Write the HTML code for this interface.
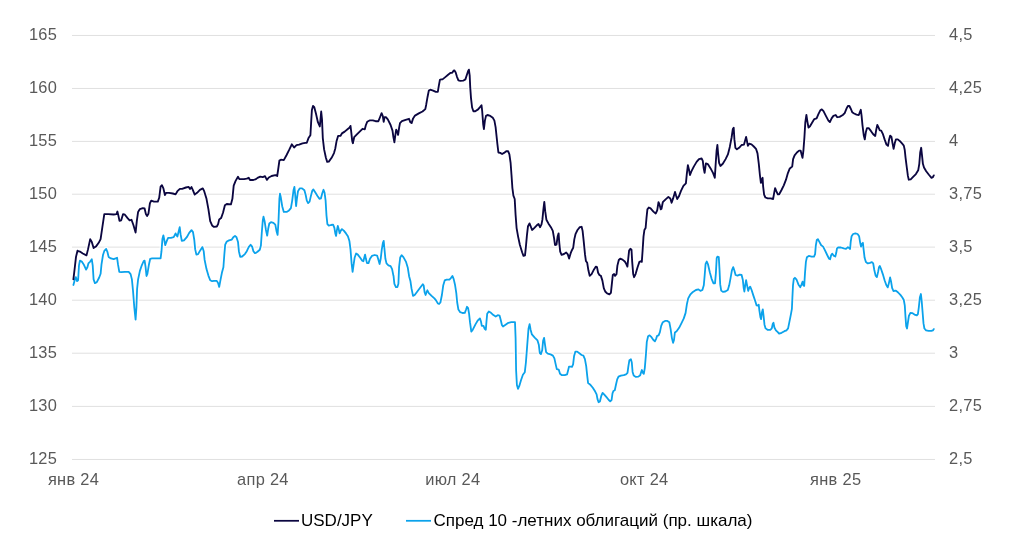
<!DOCTYPE html>
<html><head><meta charset="utf-8"><title>USD/JPY</title>
<style>
html,body{margin:0;padding:0;background:#fff;}
body{width:1024px;height:541px;overflow:hidden;font-family:"Liberation Sans",sans-serif;}
svg{display:block;}
text{font-family:"Liberation Sans",sans-serif;font-size:16.4px;fill:#595959;}
.lg{fill:#000;font-size:17px;}
</style></head><body>
<svg width="1024" height="541" viewBox="0 0 1024 541">
<rect width="1024" height="541" fill="#fff"/>
<g stroke="#e0e0e0" stroke-width="1" fill="none">
<line x1="72" y1="35.45" x2="935" y2="35.45"/>
<line x1="72" y1="88.45" x2="935" y2="88.45"/>
<line x1="72" y1="141.40" x2="935" y2="141.40"/>
<line x1="72" y1="194.20" x2="935" y2="194.20"/>
<line x1="72" y1="247.10" x2="935" y2="247.10"/>
<line x1="72" y1="300.20" x2="935" y2="300.20"/>
<line x1="72" y1="353.20" x2="935" y2="353.20"/>
<line x1="72" y1="406.40" x2="935" y2="406.40"/>
<line x1="72" y1="459.45" x2="935" y2="459.45"/>
</g>
<g text-anchor="end" letter-spacing="0.3">
<text x="57.2" y="40.1">165</text>
<text x="57.2" y="93.0">160</text>
<text x="57.2" y="146.0">155</text>
<text x="57.2" y="198.8">150</text>
<text x="57.2" y="251.7">145</text>
<text x="57.2" y="304.8">140</text>
<text x="57.2" y="357.8">135</text>
<text x="57.2" y="411.0">130</text>
<text x="57.2" y="464.1">125</text>
</g>
<g letter-spacing="0.3">
<text x="949" y="40.1">4,5</text>
<text x="949" y="93.0">4,25</text>
<text x="949" y="146.0">4</text>
<text x="949" y="198.8">3,75</text>
<text x="949" y="251.7">3,5</text>
<text x="949" y="304.8">3,25</text>
<text x="949" y="357.8">3</text>
<text x="949" y="411.0">2,75</text>
<text x="949" y="464.1">2,5</text>
</g>
<g text-anchor="middle" letter-spacing="0.3">
<text x="73.5" y="485">янв 24</text>
<text x="262.9" y="485">апр 24</text>
<text x="452.8" y="485">июл 24</text>
<text x="644.2" y="485">окт 24</text>
<text x="835.7" y="485">янв 25</text>
</g>
<polyline fill="none" stroke="#fff" stroke-opacity="0.75" stroke-width="4.6" stroke-linejoin="round" stroke-linecap="round" points="73.4,285.0 74.9,279.4 75.8,277.1 77.1,281.2 78.1,280.3 79.0,265.3 79.9,260.6 81.8,261.6 83.7,264.4 86.1,269.6 87.4,267.2 88.4,263.4 90.2,261.6 91.8,259.3 92.7,265.3 93.6,279.4 94.9,283.1 96.8,282.2 99.2,277.5 100.6,273.8 101.5,264.4 103.0,255.0 104.3,250.9 106.2,249.0 107.5,252.2 108.6,256.9 110.9,258.4 113.7,259.1 115.6,258.4 117.1,257.8 118.0,264.4 119.3,271.9 121.2,272.2 124.9,271.9 128.7,271.9 130.6,274.1 131.9,279.4 133.0,290.6 134.3,307.5 135.6,319.7 136.4,307.5 137.1,288.8 138.1,279.4 139.9,270.9 141.8,265.3 143.7,261.0 144.6,260.6 145.6,267.2 146.5,276.0 147.4,273.8 148.8,265.3 150.2,258.8 152.1,258.4 155.9,258.4 160.6,258.4 161.5,251.2 162.4,239.1 163.4,235.3 164.3,240.0 165.2,245.2 166.8,240.9 168.1,237.8 170.9,237.8 173.7,237.2 175.6,233.4 176.5,235.3 177.4,236.6 178.4,232.5 179.7,227.2 180.6,234.4 181.8,240.9 184.0,240.4 186.8,237.2 189.2,232.9 191.5,230.1 193.0,232.1 194.3,240.0 195.2,249.4 196.4,254.6 198.1,254.1 199.9,250.9 202.4,247.1 203.7,251.2 204.6,259.7 206.5,269.1 208.4,275.6 210.2,280.3 212.1,281.2 214.0,280.9 216.8,280.9 218.1,283.1 219.2,286.9 220.6,279.4 221.9,272.8 223.4,267.2 224.3,255.0 225.2,244.7 226.8,241.5 229.0,240.4 231.8,239.6 233.3,237.2 235.0,235.9 236.5,237.2 238.0,241.9 238.9,251.2 240.2,256.9 242.1,256.5 244.9,254.1 246.8,251.2 248.7,247.1 250.6,244.7 252.1,246.6 253.4,251.2 254.9,253.1 256.0,252.8 257.5,251.8 259.8,249.8 260.9,245.6 261.8,232.5 262.8,220.3 263.5,216.6 264.6,221.2 265.9,229.7 267.2,235.7 268.2,228.8 269.3,223.5 271.0,222.2 273.4,222.8 275.3,224.6 276.6,231.6 277.6,234.9 278.5,221.2 279.4,198.8 280.0,193.7 280.9,197.8 282.2,206.2 283.8,211.9 286.6,211.9 289.0,210.4 290.9,208.1 292.2,200.6 293.5,190.3 294.4,186.9 295.2,195.0 296.1,206.2 296.9,198.8 298.0,191.2 299.7,188.4 302.1,188.4 304.4,190.3 305.7,195.0 306.8,200.6 308.1,203.1 309.6,201.6 310.9,195.9 312.2,190.9 313.4,189.4 315.2,192.2 317.5,195.9 319.4,198.8 320.9,198.4 322.2,193.5 323.5,189.8 324.6,192.8 325.6,200.6 326.5,215.6 327.4,224.1 328.8,225.6 331.0,225.0 333.1,224.6 334.4,227.8 335.3,233.4 336.1,235.9 336.8,230.6 337.8,225.9 338.7,229.1 339.6,233.4 340.8,230.6 341.9,229.1 343.8,230.6 346.0,233.4 347.9,236.2 349.4,240.9 350.5,249.4 351.6,263.4 352.6,271.9 353.5,265.3 354.6,257.8 356.1,253.5 357.8,254.6 360.2,257.8 362.1,260.6 363.4,261.2 364.4,256.9 365.1,254.6 365.9,258.8 367.0,263.1 368.5,263.1 370.0,258.8 371.9,255.9 374.7,255.0 377.1,255.6 378.4,259.7 379.6,264.0 380.7,258.8 381.8,249.4 382.9,242.8 383.7,240.9 384.4,248.4 385.4,258.8 386.5,263.4 388.4,265.3 390.6,266.2 392.1,269.1 393.4,275.6 393.5,275.7 394.4,283.8 395.9,287.1 397.4,287.1 398.4,283.8 399.1,266.9 400.2,257.5 401.6,255.2 403.4,257.1 405.9,261.6 407.8,267.8 409.1,276.2 410.4,280.9 411.5,288.4 413.0,295.9 414.7,295.0 417.5,291.2 420.3,287.5 422.8,284.3 423.7,285.6 424.6,292.2 425.6,295.0 426.5,292.2 427.4,290.3 428.8,293.1 431.6,295.9 434.4,298.4 436.2,300.6 437.8,303.4 439.1,304.0 440.4,302.5 441.9,295.0 443.2,285.6 444.7,280.4 446.6,279.6 449.4,279.6 450.9,278.1 452.4,275.9 453.7,279.1 455.0,284.7 456.3,293.1 457.2,302.5 458.4,309.6 460.2,312.2 462.5,313.0 464.8,312.8 465.9,310.0 467.0,306.8 468.1,308.1 469.1,313.8 470.0,322.2 471.3,331.6 472.8,329.7 475.6,324.1 477.9,320.3 479.9,318.4 480.9,321.2 481.8,325.9 483.5,325.9 484.6,328.8 485.8,329.7 486.5,321.2 487.2,313.8 488.8,311.5 491.0,312.8 493.4,315.1 495.7,316.6 497.8,315.2 499.6,315.6 500.8,320.3 501.9,325.0 503.0,326.5 505.2,325.0 508.4,322.8 511.2,322.2 511.2,322.2 515.0,322.2 515.6,338.1 516.1,370.0 516.9,385.0 518.0,388.8 519.3,385.9 521.0,380.3 522.9,374.7 524.8,372.2 525.9,362.5 527.2,345.6 528.5,328.8 529.6,324.1 530.6,329.7 531.9,334.4 534.7,337.6 537.5,340.4 538.8,344.7 539.8,353.1 540.9,354.1 542.2,350.3 543.1,340.9 544.1,337.8 545.0,344.7 546.1,352.2 547.8,353.7 550.6,354.4 552.9,355.6 554.4,358.4 555.7,364.4 556.8,369.1 558.7,369.6 560.0,373.8 561.9,375.2 564.7,375.2 567.1,374.3 568.2,370.0 569.0,366.6 570.5,366.6 572.0,366.8 573.1,364.4 574.1,355.9 575.4,351.6 577.2,351.6 579.7,353.5 581.6,355.0 583.4,355.6 584.9,359.1 586.2,366.2 587.2,375.6 588.1,383.1 590.0,384.4 592.8,387.8 595.2,391.6 596.6,394.4 597.5,399.1 598.6,402.2 599.9,401.5 601.2,396.2 602.6,392.9 604.1,394.4 606.5,397.2 608.8,400.0 610.2,401.3 611.6,400.0 612.5,393.4 613.4,391.0 614.8,390.2 615.9,385.0 617.2,379.4 618.5,376.6 620.9,375.6 623.8,375.1 626.0,374.3 627.5,372.8 628.4,366.2 629.4,360.2 630.9,359.3 631.8,362.5 632.6,371.9 633.7,375.6 635.9,376.9 638.4,376.6 640.2,375.2 641.2,371.9 641.9,370.0 642.9,372.8 643.8,373.8 644.8,368.1 645.9,355.0 646.8,341.9 648.1,336.2 649.6,335.3 651.5,337.2 653.4,340.0 654.9,341.3 656.0,339.1 657.1,335.9 658.6,335.3 659.9,332.1 661.2,325.9 662.8,322.2 665.0,320.9 667.4,320.9 669.3,322.2 670.6,328.8 671.9,338.1 673.1,342.8 674.0,340.0 674.9,332.5 676.6,331.2 679.1,327.8 681.5,323.1 683.8,318.4 685.6,312.9 686.9,304.1 688.2,298.4 690.2,294.7 692.9,291.9 695.9,290.0 698.5,289.4 700.4,290.9 702.4,290.0 703.8,285.3 704.7,275.0 705.6,263.8 706.8,261.5 708.1,264.7 709.8,272.2 711.6,278.8 713.5,283.4 715.0,283.4 715.9,273.1 716.7,258.1 717.4,256.6 718.8,257.2 719.5,269.4 720.2,284.4 721.2,290.6 722.9,291.9 725.3,291.5 727.8,290.0 729.2,285.3 730.6,277.8 731.9,270.3 733.2,267.1 734.3,270.3 735.6,275.0 737.5,275.6 739.8,274.6 741.6,275.0 742.8,279.7 743.7,288.1 744.4,291.5 745.2,285.3 746.1,280.2 747.1,285.3 748.2,290.9 749.3,287.8 750.2,286.6 751.6,290.0 753.4,295.6 755.3,301.2 756.6,305.4 757.8,305.6 758.7,304.6 759.4,310.6 760.4,317.2 761.1,319.1 761.9,312.5 762.8,309.3 763.6,316.2 764.5,324.7 765.6,328.4 767.5,329.8 770.3,329.8 771.8,328.4 772.8,323.8 773.5,322.8 774.4,327.5 775.9,330.3 777.8,332.2 779.1,333.7 781.6,332.8 784.4,331.2 786.6,330.3 788.1,328.4 789.4,321.9 790.9,314.4 791.9,308.8 792.4,297.5 793.0,285.3 793.8,278.8 794.9,277.8 796.6,279.7 798.4,284.4 800.3,287.2 801.6,284.4 802.6,281.6 803.3,285.3 804.2,285.9 805.0,273.1 805.9,261.9 806.9,257.2 808.8,255.9 811.6,256.6 814.0,256.6 815.1,254.1 815.8,245.6 816.8,240.0 817.9,239.1 819.4,241.9 821.2,245.2 823.1,246.6 825.0,250.3 827.2,255.0 829.1,258.8 830.1,259.3 831.2,255.0 832.3,253.7 833.6,255.6 835.3,256.5 836.2,253.1 837.0,248.4 838.1,247.5 840.9,247.5 843.8,248.4 846.0,248.8 847.9,247.1 849.4,248.4 850.1,249.0 850.7,241.9 851.6,236.2 853.1,234.0 855.4,233.4 857.6,234.0 859.1,236.2 860.2,242.8 861.0,246.6 861.9,243.8 862.9,242.8 863.6,249.4 864.6,257.8 865.9,262.1 867.8,263.4 870.0,262.9 871.9,262.1 873.2,263.4 874.3,270.0 875.6,275.6 876.9,277.1 878.1,271.9 879.0,267.2 879.8,265.9 880.9,268.5 882.8,274.1 884.6,280.3 886.3,285.0 887.8,287.4 888.9,283.1 890.1,277.5 891.0,281.2 892.1,287.8 893.4,291.0 895.9,290.6 898.1,292.5 900.4,294.9 902.2,297.2 903.8,300.0 904.8,305.6 905.5,316.9 906.2,326.2 907.0,328.5 907.9,322.5 908.9,315.9 910.4,312.8 912.2,313.1 914.5,314.6 916.8,315.4 917.9,314.1 918.8,307.5 919.9,297.2 920.9,294.0 921.6,300.0 922.6,312.2 923.5,323.4 924.4,328.5 926.1,330.4 928.6,330.9 931.4,330.9 932.9,330.4 933.8,329.1"/>
<polyline fill="none" stroke="#fff" stroke-opacity="0.75" stroke-width="4.6" stroke-linejoin="round" stroke-linecap="round" points="73.4,279.4 74.5,270.0 76.0,256.9 77.5,250.7 77.5,250.9 79.9,251.6 82.8,253.5 86.5,255.4 88.0,249.4 90.2,239.1 91.8,241.9 93.6,248.1 95.9,246.6 98.7,242.8 100.6,239.1 102.4,226.9 104.3,214.1 108.1,214.1 113.7,214.5 116.5,214.1 117.4,211.5 118.4,215.6 119.5,220.9 121.2,220.3 123.1,214.1 124.9,214.7 127.8,218.4 129.6,220.3 131.5,219.8 133.4,225.0 135.6,232.5 136.8,221.2 138.1,211.9 139.9,209.1 142.8,208.1 144.6,208.5 145.9,214.1 147.1,216.0 148.4,213.8 149.9,203.4 151.2,200.6 154.0,201.6 157.8,201.6 159.2,197.8 160.6,186.6 161.9,185.2 163.4,188.4 164.9,195.0 166.2,192.8 169.0,192.8 172.8,193.5 175.6,194.4 177.4,191.2 179.9,188.8 182.1,188.8 185.9,187.5 188.7,186.9 190.0,189.0 191.5,187.1 193.0,190.3 194.7,194.6 197.1,192.8 199.9,189.9 202.8,188.4 204.2,191.2 206.5,198.8 208.4,209.1 210.2,221.2 212.1,225.4 214.0,226.9 216.8,226.5 218.1,224.1 219.2,219.4 221.1,218.1 223.0,212.8 224.9,205.3 226.8,204.0 230.9,204.4 232.4,198.8 233.7,185.6 235.6,180.9 238.0,176.8 239.3,179.1 244.0,179.1 246.8,178.7 248.7,177.8 250.0,180.0 253.4,180.0 256.0,179.1 257.5,177.9 260.3,176.6 262.8,177.1 265.0,176.2 266.9,179.9 268.8,177.5 271.6,176.0 275.3,175.1 277.2,176.0 278.1,170.0 279.4,160.6 280.9,159.7 283.8,160.1 286.6,155.0 289.4,149.4 291.8,144.3 294.1,147.5 296.5,145.2 299.1,144.7 302.5,143.4 305.3,142.8 306.8,142.8 308.5,138.1 310.4,135.3 311.1,123.1 311.9,110.0 313.0,105.9 314.3,107.2 316.0,113.8 317.9,122.2 319.8,126.5 320.5,119.4 321.2,111.5 322.0,119.4 322.8,138.1 324.1,149.4 325.9,157.8 327.2,161.9 328.8,161.6 331.6,157.8 334.0,153.1 335.3,148.4 336.6,140.9 338.1,135.9 340.4,135.9 341.9,133.4 344.7,131.6 347.5,129.3 349.4,127.8 350.5,125.9 351.2,131.6 352.2,140.9 352.9,143.2 354.2,137.2 356.9,134.4 359.7,131.6 362.5,128.8 364.8,129.3 365.9,125.0 367.2,121.8 370.0,120.3 372.8,120.3 375.6,121.2 378.4,121.2 379.9,117.5 381.6,113.2 382.8,116.0 383.7,121.8 384.6,117.1 385.9,117.1 387.8,119.4 390.6,125.0 392.5,130.6 393.4,137.2 394.4,142.4 395.3,135.3 396.2,129.7 397.2,131.6 398.1,134.9 399.1,127.8 400.0,123.1 401.9,121.2 405.6,119.8 409.0,118.8 410.3,122.2 411.6,123.1 413.1,118.4 415.0,115.6 418.8,113.4 422.5,111.5 425.3,109.1 426.2,104.7 427.5,97.2 428.8,90.6 430.3,89.7 433.1,90.6 435.9,91.9 437.8,91.9 438.8,85.9 439.9,79.9 441.2,79.4 442.5,79.4 445.3,77.1 448.1,74.7 450.6,72.8 452.2,72.8 453.4,70.9 454.3,70.4 455.6,72.2 456.9,76.6 458.4,80.3 460.3,80.9 463.1,80.7 465.4,79.4 466.9,74.7 468.2,70.9 468.9,69.6 469.7,75.6 470.2,86.9 471.0,98.1 472.1,107.5 473.4,111.2 475.3,111.2 478.1,109.4 480.0,107.1 481.5,105.2 482.2,111.2 483.2,124.4 483.9,129.1 484.9,120.6 486.0,115.9 487.5,115.0 490.3,115.9 492.8,117.8 494.4,120.6 495.6,127.2 496.5,135.6 497.4,144.1 498.4,152.5 500.2,152.9 502.1,154.0 504.0,152.9 506.2,151.2 508.1,151.2 509.4,154.4 510.6,162.8 511.5,175.0 512.4,188.1 513.4,195.6 514.7,199.0 515.6,215.0 516.6,228.1 518.1,236.6 519.9,245.0 522.2,252.5 523.5,255.9 525.0,255.3 525.9,246.9 526.9,235.6 528.0,226.2 529.5,223.4 530.6,226.2 532.1,230.0 534.4,227.8 536.8,225.3 538.5,224.0 540.0,227.2 541.5,224.4 542.4,219.7 543.4,209.4 544.3,201.9 545.2,211.2 546.4,219.7 548.4,223.4 550.9,227.2 552.8,230.9 554.1,238.4 555.0,245.0 556.5,244.6 557.6,236.6 558.6,233.4 559.3,243.1 560.2,251.6 561.6,254.8 564.0,254.0 566.2,252.5 567.8,254.4 569.1,258.5 570.6,253.4 571.9,250.2 573.2,247.8 574.3,239.4 575.6,233.8 577.5,230.0 579.8,227.2 581.6,226.8 582.6,230.9 583.7,241.2 585.0,254.4 585.9,260.9 587.2,262.8 588.4,270.3 589.7,275.9 591.6,274.1 594.0,269.4 595.9,266.6 597.0,267.1 598.1,272.8 599.4,275.0 600.9,275.9 602.4,280.6 603.8,288.1 605.2,291.5 607.1,293.4 609.4,294.3 610.9,292.8 611.8,284.4 612.8,275.0 614.1,274.1 615.0,275.9 616.5,274.1 617.4,265.6 618.8,260.0 620.2,258.7 622.5,259.6 624.8,261.5 626.2,263.8 627.4,266.6 628.1,260.0 629.1,250.6 630.4,248.8 631.5,249.7 632.2,261.9 633.2,274.1 634.1,277.2 635.6,274.1 637.5,267.5 639.4,261.9 640.7,261.3 641.8,261.9 642.6,250.6 643.5,236.6 644.4,230.0 645.6,228.1 646.5,217.8 647.4,209.4 648.8,207.5 650.6,208.4 653.4,211.6 655.7,213.5 657.2,210.3 658.5,202.2 659.6,204.7 660.8,209.4 661.5,208.8 662.8,202.2 665.6,199.4 668.4,196.9 670.3,198.4 671.6,202.8 673.1,198.4 675.0,191.9 676.1,195.6 677.2,199.0 678.8,196.6 681.0,190.9 683.4,185.9 685.9,183.4 686.8,174.1 687.9,165.2 689.1,170.3 690.0,175.0 691.5,171.2 693.8,166.6 696.6,161.9 699.0,159.1 701.6,158.5 702.8,160.9 703.7,168.4 704.6,172.8 705.9,163.4 707.8,164.1 710.6,168.4 713.1,173.1 714.8,177.8 715.7,163.8 716.6,150.6 717.4,145.0 718.1,153.4 719.1,162.8 720.4,166.0 722.8,163.8 725.6,159.1 727.9,154.4 729.8,146.9 731.6,137.5 732.8,129.1 733.7,127.8 734.4,139.4 735.4,147.8 736.9,149.3 739.1,147.8 741.6,145.0 744.0,144.6 744.9,141.2 746.1,136.9 747.0,141.2 747.9,145.9 749.2,143.7 751.5,144.4 753.8,146.5 756.0,148.8 757.5,153.4 758.8,163.8 759.9,175.0 760.9,182.9 761.8,179.7 762.6,177.8 763.1,186.2 764.1,194.7 765.4,197.5 767.8,198.4 770.6,198.4 773.1,199.0 774.0,193.8 775.1,188.1 776.2,190.9 777.8,194.3 779.2,194.3 781.5,190.0 783.8,185.3 786.0,179.7 787.9,173.1 789.8,168.4 792.2,166.6 793.1,159.1 794.6,155.3 796.9,152.5 799.1,150.6 800.6,150.6 801.6,154.4 802.5,157.8 803.4,150.6 804.4,137.5 805.3,122.5 806.4,115.0 807.4,121.6 808.5,127.6 810.0,126.2 812.2,122.5 814.3,119.1 816.6,118.4 818.4,114.1 820.3,110.3 821.8,109.4 823.5,111.2 825.9,115.9 828.4,120.6 829.9,122.1 831.6,118.4 833.4,115.9 835.7,115.0 837.2,117.2 839.6,116.9 842.8,115.0 844.7,113.1 846.6,108.4 847.9,106.0 849.4,106.0 850.9,109.0 852.2,112.2 854.1,113.5 856.5,114.6 858.8,115.0 859.9,112.2 860.8,109.8 861.6,115.9 862.5,125.3 863.8,135.6 864.8,139.4 865.9,131.9 867.0,128.1 868.7,128.1 870.9,130.9 873.2,134.3 875.2,136.0 876.2,130.0 877.3,124.9 878.4,127.2 879.8,130.4 881.2,130.6 882.8,133.8 884.6,139.4 886.5,144.6 888.0,145.9 889.1,139.4 890.2,135.6 891.4,136.6 892.5,143.1 893.6,148.8 894.8,143.1 895.9,139.4 897.8,139.4 900.0,141.2 902.2,143.7 903.8,145.6 904.7,149.7 905.6,158.1 906.8,167.5 907.9,175.9 908.8,179.7 910.7,179.3 913.1,176.9 915.9,174.1 918.2,170.3 919.3,163.8 920.2,152.5 921.2,147.8 921.9,154.4 922.9,163.8 924.0,167.5 926.2,171.2 929.1,175.0 931.5,177.8 932.8,177.2 933.8,175.4"/>
<polyline fill="none" stroke="#0ba2eb" stroke-width="1.8" stroke-linejoin="round" stroke-linecap="round" points="73.4,285.0 74.9,279.4 75.8,277.1 77.1,281.2 78.1,280.3 79.0,265.3 79.9,260.6 81.8,261.6 83.7,264.4 86.1,269.6 87.4,267.2 88.4,263.4 90.2,261.6 91.8,259.3 92.7,265.3 93.6,279.4 94.9,283.1 96.8,282.2 99.2,277.5 100.6,273.8 101.5,264.4 103.0,255.0 104.3,250.9 106.2,249.0 107.5,252.2 108.6,256.9 110.9,258.4 113.7,259.1 115.6,258.4 117.1,257.8 118.0,264.4 119.3,271.9 121.2,272.2 124.9,271.9 128.7,271.9 130.6,274.1 131.9,279.4 133.0,290.6 134.3,307.5 135.6,319.7 136.4,307.5 137.1,288.8 138.1,279.4 139.9,270.9 141.8,265.3 143.7,261.0 144.6,260.6 145.6,267.2 146.5,276.0 147.4,273.8 148.8,265.3 150.2,258.8 152.1,258.4 155.9,258.4 160.6,258.4 161.5,251.2 162.4,239.1 163.4,235.3 164.3,240.0 165.2,245.2 166.8,240.9 168.1,237.8 170.9,237.8 173.7,237.2 175.6,233.4 176.5,235.3 177.4,236.6 178.4,232.5 179.7,227.2 180.6,234.4 181.8,240.9 184.0,240.4 186.8,237.2 189.2,232.9 191.5,230.1 193.0,232.1 194.3,240.0 195.2,249.4 196.4,254.6 198.1,254.1 199.9,250.9 202.4,247.1 203.7,251.2 204.6,259.7 206.5,269.1 208.4,275.6 210.2,280.3 212.1,281.2 214.0,280.9 216.8,280.9 218.1,283.1 219.2,286.9 220.6,279.4 221.9,272.8 223.4,267.2 224.3,255.0 225.2,244.7 226.8,241.5 229.0,240.4 231.8,239.6 233.3,237.2 235.0,235.9 236.5,237.2 238.0,241.9 238.9,251.2 240.2,256.9 242.1,256.5 244.9,254.1 246.8,251.2 248.7,247.1 250.6,244.7 252.1,246.6 253.4,251.2 254.9,253.1 256.0,252.8 257.5,251.8 259.8,249.8 260.9,245.6 261.8,232.5 262.8,220.3 263.5,216.6 264.6,221.2 265.9,229.7 267.2,235.7 268.2,228.8 269.3,223.5 271.0,222.2 273.4,222.8 275.3,224.6 276.6,231.6 277.6,234.9 278.5,221.2 279.4,198.8 280.0,193.7 280.9,197.8 282.2,206.2 283.8,211.9 286.6,211.9 289.0,210.4 290.9,208.1 292.2,200.6 293.5,190.3 294.4,186.9 295.2,195.0 296.1,206.2 296.9,198.8 298.0,191.2 299.7,188.4 302.1,188.4 304.4,190.3 305.7,195.0 306.8,200.6 308.1,203.1 309.6,201.6 310.9,195.9 312.2,190.9 313.4,189.4 315.2,192.2 317.5,195.9 319.4,198.8 320.9,198.4 322.2,193.5 323.5,189.8 324.6,192.8 325.6,200.6 326.5,215.6 327.4,224.1 328.8,225.6 331.0,225.0 333.1,224.6 334.4,227.8 335.3,233.4 336.1,235.9 336.8,230.6 337.8,225.9 338.7,229.1 339.6,233.4 340.8,230.6 341.9,229.1 343.8,230.6 346.0,233.4 347.9,236.2 349.4,240.9 350.5,249.4 351.6,263.4 352.6,271.9 353.5,265.3 354.6,257.8 356.1,253.5 357.8,254.6 360.2,257.8 362.1,260.6 363.4,261.2 364.4,256.9 365.1,254.6 365.9,258.8 367.0,263.1 368.5,263.1 370.0,258.8 371.9,255.9 374.7,255.0 377.1,255.6 378.4,259.7 379.6,264.0 380.7,258.8 381.8,249.4 382.9,242.8 383.7,240.9 384.4,248.4 385.4,258.8 386.5,263.4 388.4,265.3 390.6,266.2 392.1,269.1 393.4,275.6 393.5,275.7 394.4,283.8 395.9,287.1 397.4,287.1 398.4,283.8 399.1,266.9 400.2,257.5 401.6,255.2 403.4,257.1 405.9,261.6 407.8,267.8 409.1,276.2 410.4,280.9 411.5,288.4 413.0,295.9 414.7,295.0 417.5,291.2 420.3,287.5 422.8,284.3 423.7,285.6 424.6,292.2 425.6,295.0 426.5,292.2 427.4,290.3 428.8,293.1 431.6,295.9 434.4,298.4 436.2,300.6 437.8,303.4 439.1,304.0 440.4,302.5 441.9,295.0 443.2,285.6 444.7,280.4 446.6,279.6 449.4,279.6 450.9,278.1 452.4,275.9 453.7,279.1 455.0,284.7 456.3,293.1 457.2,302.5 458.4,309.6 460.2,312.2 462.5,313.0 464.8,312.8 465.9,310.0 467.0,306.8 468.1,308.1 469.1,313.8 470.0,322.2 471.3,331.6 472.8,329.7 475.6,324.1 477.9,320.3 479.9,318.4 480.9,321.2 481.8,325.9 483.5,325.9 484.6,328.8 485.8,329.7 486.5,321.2 487.2,313.8 488.8,311.5 491.0,312.8 493.4,315.1 495.7,316.6 497.8,315.2 499.6,315.6 500.8,320.3 501.9,325.0 503.0,326.5 505.2,325.0 508.4,322.8 511.2,322.2 511.2,322.2 515.0,322.2 515.6,338.1 516.1,370.0 516.9,385.0 518.0,388.8 519.3,385.9 521.0,380.3 522.9,374.7 524.8,372.2 525.9,362.5 527.2,345.6 528.5,328.8 529.6,324.1 530.6,329.7 531.9,334.4 534.7,337.6 537.5,340.4 538.8,344.7 539.8,353.1 540.9,354.1 542.2,350.3 543.1,340.9 544.1,337.8 545.0,344.7 546.1,352.2 547.8,353.7 550.6,354.4 552.9,355.6 554.4,358.4 555.7,364.4 556.8,369.1 558.7,369.6 560.0,373.8 561.9,375.2 564.7,375.2 567.1,374.3 568.2,370.0 569.0,366.6 570.5,366.6 572.0,366.8 573.1,364.4 574.1,355.9 575.4,351.6 577.2,351.6 579.7,353.5 581.6,355.0 583.4,355.6 584.9,359.1 586.2,366.2 587.2,375.6 588.1,383.1 590.0,384.4 592.8,387.8 595.2,391.6 596.6,394.4 597.5,399.1 598.6,402.2 599.9,401.5 601.2,396.2 602.6,392.9 604.1,394.4 606.5,397.2 608.8,400.0 610.2,401.3 611.6,400.0 612.5,393.4 613.4,391.0 614.8,390.2 615.9,385.0 617.2,379.4 618.5,376.6 620.9,375.6 623.8,375.1 626.0,374.3 627.5,372.8 628.4,366.2 629.4,360.2 630.9,359.3 631.8,362.5 632.6,371.9 633.7,375.6 635.9,376.9 638.4,376.6 640.2,375.2 641.2,371.9 641.9,370.0 642.9,372.8 643.8,373.8 644.8,368.1 645.9,355.0 646.8,341.9 648.1,336.2 649.6,335.3 651.5,337.2 653.4,340.0 654.9,341.3 656.0,339.1 657.1,335.9 658.6,335.3 659.9,332.1 661.2,325.9 662.8,322.2 665.0,320.9 667.4,320.9 669.3,322.2 670.6,328.8 671.9,338.1 673.1,342.8 674.0,340.0 674.9,332.5 676.6,331.2 679.1,327.8 681.5,323.1 683.8,318.4 685.6,312.9 686.9,304.1 688.2,298.4 690.2,294.7 692.9,291.9 695.9,290.0 698.5,289.4 700.4,290.9 702.4,290.0 703.8,285.3 704.7,275.0 705.6,263.8 706.8,261.5 708.1,264.7 709.8,272.2 711.6,278.8 713.5,283.4 715.0,283.4 715.9,273.1 716.7,258.1 717.4,256.6 718.8,257.2 719.5,269.4 720.2,284.4 721.2,290.6 722.9,291.9 725.3,291.5 727.8,290.0 729.2,285.3 730.6,277.8 731.9,270.3 733.2,267.1 734.3,270.3 735.6,275.0 737.5,275.6 739.8,274.6 741.6,275.0 742.8,279.7 743.7,288.1 744.4,291.5 745.2,285.3 746.1,280.2 747.1,285.3 748.2,290.9 749.3,287.8 750.2,286.6 751.6,290.0 753.4,295.6 755.3,301.2 756.6,305.4 757.8,305.6 758.7,304.6 759.4,310.6 760.4,317.2 761.1,319.1 761.9,312.5 762.8,309.3 763.6,316.2 764.5,324.7 765.6,328.4 767.5,329.8 770.3,329.8 771.8,328.4 772.8,323.8 773.5,322.8 774.4,327.5 775.9,330.3 777.8,332.2 779.1,333.7 781.6,332.8 784.4,331.2 786.6,330.3 788.1,328.4 789.4,321.9 790.9,314.4 791.9,308.8 792.4,297.5 793.0,285.3 793.8,278.8 794.9,277.8 796.6,279.7 798.4,284.4 800.3,287.2 801.6,284.4 802.6,281.6 803.3,285.3 804.2,285.9 805.0,273.1 805.9,261.9 806.9,257.2 808.8,255.9 811.6,256.6 814.0,256.6 815.1,254.1 815.8,245.6 816.8,240.0 817.9,239.1 819.4,241.9 821.2,245.2 823.1,246.6 825.0,250.3 827.2,255.0 829.1,258.8 830.1,259.3 831.2,255.0 832.3,253.7 833.6,255.6 835.3,256.5 836.2,253.1 837.0,248.4 838.1,247.5 840.9,247.5 843.8,248.4 846.0,248.8 847.9,247.1 849.4,248.4 850.1,249.0 850.7,241.9 851.6,236.2 853.1,234.0 855.4,233.4 857.6,234.0 859.1,236.2 860.2,242.8 861.0,246.6 861.9,243.8 862.9,242.8 863.6,249.4 864.6,257.8 865.9,262.1 867.8,263.4 870.0,262.9 871.9,262.1 873.2,263.4 874.3,270.0 875.6,275.6 876.9,277.1 878.1,271.9 879.0,267.2 879.8,265.9 880.9,268.5 882.8,274.1 884.6,280.3 886.3,285.0 887.8,287.4 888.9,283.1 890.1,277.5 891.0,281.2 892.1,287.8 893.4,291.0 895.9,290.6 898.1,292.5 900.4,294.9 902.2,297.2 903.8,300.0 904.8,305.6 905.5,316.9 906.2,326.2 907.0,328.5 907.9,322.5 908.9,315.9 910.4,312.8 912.2,313.1 914.5,314.6 916.8,315.4 917.9,314.1 918.8,307.5 919.9,297.2 920.9,294.0 921.6,300.0 922.6,312.2 923.5,323.4 924.4,328.5 926.1,330.4 928.6,330.9 931.4,330.9 932.9,330.4 933.8,329.1"/>
<polyline fill="none" stroke="#0b0640" stroke-width="1.85" stroke-linejoin="round" stroke-linecap="round" points="73.4,279.4 74.5,270.0 76.0,256.9 77.5,250.7 77.5,250.9 79.9,251.6 82.8,253.5 86.5,255.4 88.0,249.4 90.2,239.1 91.8,241.9 93.6,248.1 95.9,246.6 98.7,242.8 100.6,239.1 102.4,226.9 104.3,214.1 108.1,214.1 113.7,214.5 116.5,214.1 117.4,211.5 118.4,215.6 119.5,220.9 121.2,220.3 123.1,214.1 124.9,214.7 127.8,218.4 129.6,220.3 131.5,219.8 133.4,225.0 135.6,232.5 136.8,221.2 138.1,211.9 139.9,209.1 142.8,208.1 144.6,208.5 145.9,214.1 147.1,216.0 148.4,213.8 149.9,203.4 151.2,200.6 154.0,201.6 157.8,201.6 159.2,197.8 160.6,186.6 161.9,185.2 163.4,188.4 164.9,195.0 166.2,192.8 169.0,192.8 172.8,193.5 175.6,194.4 177.4,191.2 179.9,188.8 182.1,188.8 185.9,187.5 188.7,186.9 190.0,189.0 191.5,187.1 193.0,190.3 194.7,194.6 197.1,192.8 199.9,189.9 202.8,188.4 204.2,191.2 206.5,198.8 208.4,209.1 210.2,221.2 212.1,225.4 214.0,226.9 216.8,226.5 218.1,224.1 219.2,219.4 221.1,218.1 223.0,212.8 224.9,205.3 226.8,204.0 230.9,204.4 232.4,198.8 233.7,185.6 235.6,180.9 238.0,176.8 239.3,179.1 244.0,179.1 246.8,178.7 248.7,177.8 250.0,180.0 253.4,180.0 256.0,179.1 257.5,177.9 260.3,176.6 262.8,177.1 265.0,176.2 266.9,179.9 268.8,177.5 271.6,176.0 275.3,175.1 277.2,176.0 278.1,170.0 279.4,160.6 280.9,159.7 283.8,160.1 286.6,155.0 289.4,149.4 291.8,144.3 294.1,147.5 296.5,145.2 299.1,144.7 302.5,143.4 305.3,142.8 306.8,142.8 308.5,138.1 310.4,135.3 311.1,123.1 311.9,110.0 313.0,105.9 314.3,107.2 316.0,113.8 317.9,122.2 319.8,126.5 320.5,119.4 321.2,111.5 322.0,119.4 322.8,138.1 324.1,149.4 325.9,157.8 327.2,161.9 328.8,161.6 331.6,157.8 334.0,153.1 335.3,148.4 336.6,140.9 338.1,135.9 340.4,135.9 341.9,133.4 344.7,131.6 347.5,129.3 349.4,127.8 350.5,125.9 351.2,131.6 352.2,140.9 352.9,143.2 354.2,137.2 356.9,134.4 359.7,131.6 362.5,128.8 364.8,129.3 365.9,125.0 367.2,121.8 370.0,120.3 372.8,120.3 375.6,121.2 378.4,121.2 379.9,117.5 381.6,113.2 382.8,116.0 383.7,121.8 384.6,117.1 385.9,117.1 387.8,119.4 390.6,125.0 392.5,130.6 393.4,137.2 394.4,142.4 395.3,135.3 396.2,129.7 397.2,131.6 398.1,134.9 399.1,127.8 400.0,123.1 401.9,121.2 405.6,119.8 409.0,118.8 410.3,122.2 411.6,123.1 413.1,118.4 415.0,115.6 418.8,113.4 422.5,111.5 425.3,109.1 426.2,104.7 427.5,97.2 428.8,90.6 430.3,89.7 433.1,90.6 435.9,91.9 437.8,91.9 438.8,85.9 439.9,79.9 441.2,79.4 442.5,79.4 445.3,77.1 448.1,74.7 450.6,72.8 452.2,72.8 453.4,70.9 454.3,70.4 455.6,72.2 456.9,76.6 458.4,80.3 460.3,80.9 463.1,80.7 465.4,79.4 466.9,74.7 468.2,70.9 468.9,69.6 469.7,75.6 470.2,86.9 471.0,98.1 472.1,107.5 473.4,111.2 475.3,111.2 478.1,109.4 480.0,107.1 481.5,105.2 482.2,111.2 483.2,124.4 483.9,129.1 484.9,120.6 486.0,115.9 487.5,115.0 490.3,115.9 492.8,117.8 494.4,120.6 495.6,127.2 496.5,135.6 497.4,144.1 498.4,152.5 500.2,152.9 502.1,154.0 504.0,152.9 506.2,151.2 508.1,151.2 509.4,154.4 510.6,162.8 511.5,175.0 512.4,188.1 513.4,195.6 514.7,199.0 515.6,215.0 516.6,228.1 518.1,236.6 519.9,245.0 522.2,252.5 523.5,255.9 525.0,255.3 525.9,246.9 526.9,235.6 528.0,226.2 529.5,223.4 530.6,226.2 532.1,230.0 534.4,227.8 536.8,225.3 538.5,224.0 540.0,227.2 541.5,224.4 542.4,219.7 543.4,209.4 544.3,201.9 545.2,211.2 546.4,219.7 548.4,223.4 550.9,227.2 552.8,230.9 554.1,238.4 555.0,245.0 556.5,244.6 557.6,236.6 558.6,233.4 559.3,243.1 560.2,251.6 561.6,254.8 564.0,254.0 566.2,252.5 567.8,254.4 569.1,258.5 570.6,253.4 571.9,250.2 573.2,247.8 574.3,239.4 575.6,233.8 577.5,230.0 579.8,227.2 581.6,226.8 582.6,230.9 583.7,241.2 585.0,254.4 585.9,260.9 587.2,262.8 588.4,270.3 589.7,275.9 591.6,274.1 594.0,269.4 595.9,266.6 597.0,267.1 598.1,272.8 599.4,275.0 600.9,275.9 602.4,280.6 603.8,288.1 605.2,291.5 607.1,293.4 609.4,294.3 610.9,292.8 611.8,284.4 612.8,275.0 614.1,274.1 615.0,275.9 616.5,274.1 617.4,265.6 618.8,260.0 620.2,258.7 622.5,259.6 624.8,261.5 626.2,263.8 627.4,266.6 628.1,260.0 629.1,250.6 630.4,248.8 631.5,249.7 632.2,261.9 633.2,274.1 634.1,277.2 635.6,274.1 637.5,267.5 639.4,261.9 640.7,261.3 641.8,261.9 642.6,250.6 643.5,236.6 644.4,230.0 645.6,228.1 646.5,217.8 647.4,209.4 648.8,207.5 650.6,208.4 653.4,211.6 655.7,213.5 657.2,210.3 658.5,202.2 659.6,204.7 660.8,209.4 661.5,208.8 662.8,202.2 665.6,199.4 668.4,196.9 670.3,198.4 671.6,202.8 673.1,198.4 675.0,191.9 676.1,195.6 677.2,199.0 678.8,196.6 681.0,190.9 683.4,185.9 685.9,183.4 686.8,174.1 687.9,165.2 689.1,170.3 690.0,175.0 691.5,171.2 693.8,166.6 696.6,161.9 699.0,159.1 701.6,158.5 702.8,160.9 703.7,168.4 704.6,172.8 705.9,163.4 707.8,164.1 710.6,168.4 713.1,173.1 714.8,177.8 715.7,163.8 716.6,150.6 717.4,145.0 718.1,153.4 719.1,162.8 720.4,166.0 722.8,163.8 725.6,159.1 727.9,154.4 729.8,146.9 731.6,137.5 732.8,129.1 733.7,127.8 734.4,139.4 735.4,147.8 736.9,149.3 739.1,147.8 741.6,145.0 744.0,144.6 744.9,141.2 746.1,136.9 747.0,141.2 747.9,145.9 749.2,143.7 751.5,144.4 753.8,146.5 756.0,148.8 757.5,153.4 758.8,163.8 759.9,175.0 760.9,182.9 761.8,179.7 762.6,177.8 763.1,186.2 764.1,194.7 765.4,197.5 767.8,198.4 770.6,198.4 773.1,199.0 774.0,193.8 775.1,188.1 776.2,190.9 777.8,194.3 779.2,194.3 781.5,190.0 783.8,185.3 786.0,179.7 787.9,173.1 789.8,168.4 792.2,166.6 793.1,159.1 794.6,155.3 796.9,152.5 799.1,150.6 800.6,150.6 801.6,154.4 802.5,157.8 803.4,150.6 804.4,137.5 805.3,122.5 806.4,115.0 807.4,121.6 808.5,127.6 810.0,126.2 812.2,122.5 814.3,119.1 816.6,118.4 818.4,114.1 820.3,110.3 821.8,109.4 823.5,111.2 825.9,115.9 828.4,120.6 829.9,122.1 831.6,118.4 833.4,115.9 835.7,115.0 837.2,117.2 839.6,116.9 842.8,115.0 844.7,113.1 846.6,108.4 847.9,106.0 849.4,106.0 850.9,109.0 852.2,112.2 854.1,113.5 856.5,114.6 858.8,115.0 859.9,112.2 860.8,109.8 861.6,115.9 862.5,125.3 863.8,135.6 864.8,139.4 865.9,131.9 867.0,128.1 868.7,128.1 870.9,130.9 873.2,134.3 875.2,136.0 876.2,130.0 877.3,124.9 878.4,127.2 879.8,130.4 881.2,130.6 882.8,133.8 884.6,139.4 886.5,144.6 888.0,145.9 889.1,139.4 890.2,135.6 891.4,136.6 892.5,143.1 893.6,148.8 894.8,143.1 895.9,139.4 897.8,139.4 900.0,141.2 902.2,143.7 903.8,145.6 904.7,149.7 905.6,158.1 906.8,167.5 907.9,175.9 908.8,179.7 910.7,179.3 913.1,176.9 915.9,174.1 918.2,170.3 919.3,163.8 920.2,152.5 921.2,147.8 921.9,154.4 922.9,163.8 924.0,167.5 926.2,171.2 929.1,175.0 931.5,177.8 932.8,177.2 933.8,175.4"/>
<line x1="274" y1="520.8" x2="299" y2="520.8" stroke="#0b0640" stroke-width="1.75"/>
<text class="lg" x="301" y="525.5">USD/JPY</text>
<line x1="406" y1="520.8" x2="431" y2="520.8" stroke="#0ba2eb" stroke-width="1.75"/>
<text class="lg" x="433.5" y="525.5">Спред 10 -летних облигаций (пр. шкала)</text>
</svg>
</body></html>
